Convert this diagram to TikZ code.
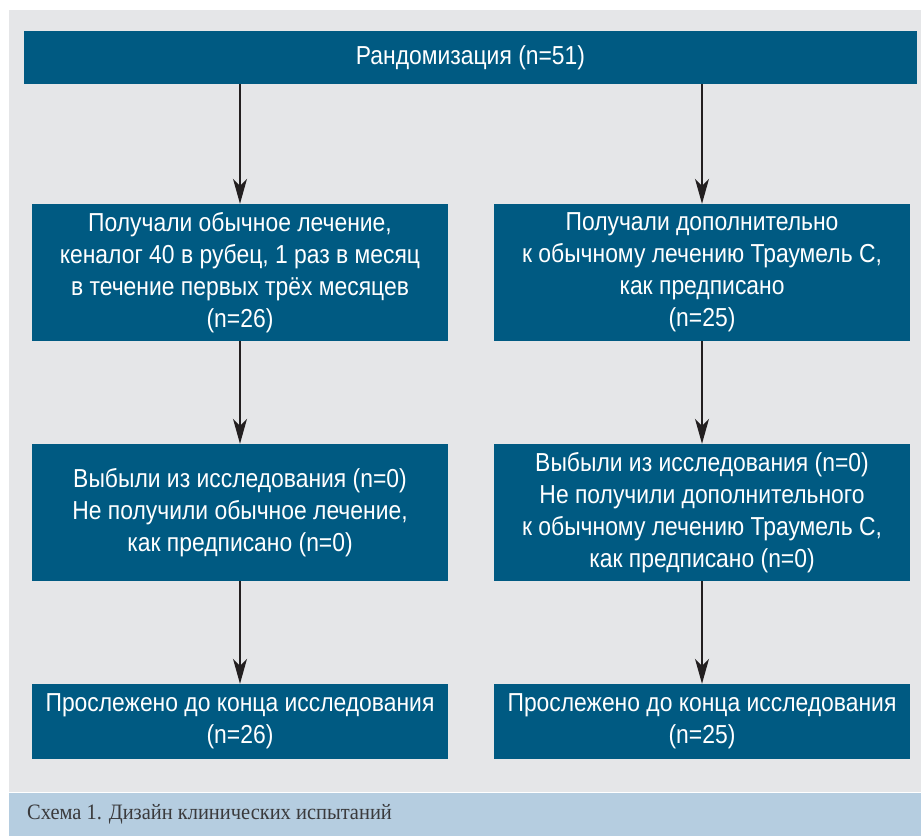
\documentclass[tikz,border=0pt]{standalone}
\usepackage{fontspec}
\setmainfont[FakeStretch=0.88]{Liberation Sans}
\newfontfamily\piefont[FakeStretch=0.93]{Liberation Serif}
\usetikzlibrary{arrows.meta}
\definecolor{cajaazul}{HTML}{005A82}
\definecolor{fondogris}{HTML}{E5E6E8}
\definecolor{pieazul}{HTML}{B5CDE0}
\definecolor{flechagris}{HTML}{231F20}
\definecolor{textopie}{HTML}{3A3A3C}

\begin{document}
\begin{tikzpicture}[x=1pt, y=-1pt,
  caja/.style={fill=cajaazul, text=white, inner sep=0pt, align=center,
    minimum width=416pt, minimum height=137pt, font=\fontsize{26}{32}\selectfont},
  flechita/.style={draw=flechagris, line width=1.3pt,
    -{Stealth[length=25pt, width=14pt, inset=7pt]}}]
  \useasboundingbox (0,0) rectangle (921,836);
  % el fondo y el pie
  \fill[fondogris] (9,10) rectangle (921,792);
  \fill[pieazul] (9,793) rectangle (921,836);
  \node[anchor=base west, inner sep=0pt, text=textopie,
    font=\piefont\fontsize{22}{26}\selectfont] (pie) at (27,819)
    {Схема 1. Дизайн клинических испытаний};
  % las cajas
  \node[caja, minimum width=893pt, minimum height=53pt] (rand) at (470.5,57.5)
    {Рандомизация (n=51)};
  \node[caja] (izq1) at (240,272.5)
    {Получали обычное лечение,\\кеналог 40 в рубец, 1 раз в месяц\\в течение первых трёх месяцев\\(n=26)};
  \node[caja] (der1) at (702,272.5)
    {Получали дополнительно\\к обычному лечению Траумель С,\\как предписано\\(n=25)};
  \node[caja] (izq2) at (240,512.5)
    {Выбыли из исследования (n=0)\\Не получили обычное лечение,\\как предписано (n=0)};
  \node[caja] (der2) at (702,512.5)
    {Выбыли из исследования (n=0)\\Не получили дополнительного\\к обычному лечению Траумель С,\\как предписано (n=0)};
  \node[caja, minimum height=75pt] (izq3) at (240,721.5)
    {Прослежено до конца исследования\\(n=26)};
  \node[caja, minimum height=75pt] (der3) at (702,721.5)
    {Прослежено до конца исследования\\(n=25)};
  % las flechas
  \foreach \a/\b in {rand/izq1, rand/der1, izq1/izq2, der1/der2, izq2/izq3, der2/der3}
    \draw[flechita] (\a.south -| \b.north) -- (\b.north);
\end{tikzpicture}
\end{document}
